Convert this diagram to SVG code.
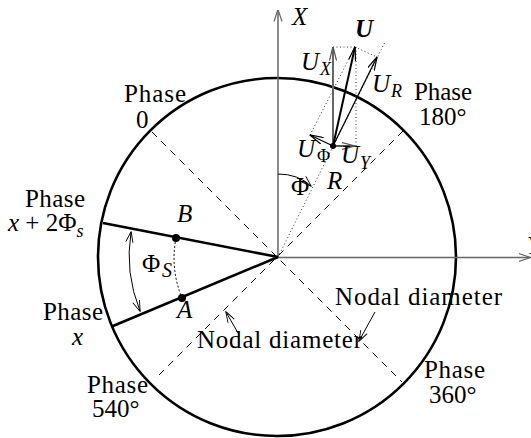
<svg xmlns="http://www.w3.org/2000/svg" width="531" height="438" viewBox="0 0 531 438">
<style>
text{font-family:"Liberation Serif","Times New Roman",serif;font-size:25px;fill:#000}
.it{font-style:italic}
.sub{font-size:18px}
.axis{stroke:#666;stroke-width:1.5;fill:none}
.thick{stroke:#000;stroke-width:2.6;fill:none}
.dash{stroke:#000;stroke-width:1;fill:none;stroke-dasharray:7 6}
.dot{stroke:#333;stroke-width:1;fill:none;stroke-dasharray:1 2.5}
.thin{stroke:#000;stroke-width:1;fill:none}
</style>
<defs>
<marker id="ag" viewBox="0 0 12 10" refX="11.5" refY="5" markerWidth="12" markerHeight="10" markerUnits="userSpaceOnUse" orient="auto"><path d="M0,1 L12,5 L0,9" fill="none" stroke="#666" stroke-width="1.2"/></marker>
<marker id="ak" viewBox="0 0 12 10" refX="11.5" refY="5" markerWidth="12" markerHeight="9" markerUnits="userSpaceOnUse" orient="auto-start-reverse"><path d="M0,1 L12,5 L0,9" fill="none" stroke="#000" stroke-width="1"/></marker>
<marker id="av" viewBox="0 0 14 8" refX="13.5" refY="4" markerWidth="14" markerHeight="8" markerUnits="userSpaceOnUse" orient="auto"><path d="M0,0.5 L14,4 L0,7.5" fill="none" stroke="#000" stroke-width="1.2"/></marker>
<marker id="avg" viewBox="0 0 14 8" refX="13.5" refY="4" markerWidth="14" markerHeight="8" markerUnits="userSpaceOnUse" orient="auto"><path d="M0,0.5 L14,4 L0,7.5" fill="none" stroke="#555" stroke-width="1.2"/></marker>
</defs>

<g id="disk">
<circle cx="277" cy="257" r="179" class="thick"/>
</g>

<g id="connectors">
<line x1="278" y1="257.5" x2="278" y2="10" class="axis" marker-end="url(#ag)"/>
<line x1="278" y1="257.5" x2="530" y2="257.5" class="axis" marker-end="url(#ag)"/>
<line x1="152" y1="132" x2="402" y2="382" class="dash"/>
<line x1="403" y1="131" x2="155" y2="379" class="dash"/>
<line x1="278" y1="257" x2="103" y2="223" class="thick"/>
<line x1="278" y1="257" x2="113" y2="326" class="thick"/>
<path d="M131 232 A149 149 0 0 0 140 311" class="thin" marker-start="url(#ak)" marker-end="url(#ak)"/>
<path d="M176 238 A104 104 0 0 0 182 298" class="thin" stroke-dasharray="2 2"/>
<line x1="375" y1="312" x2="359" y2="341" class="thin" marker-end="url(#ak)"/>
<line x1="238" y1="333" x2="226" y2="312" class="thin" marker-end="url(#ak)"/>
<line x1="278" y1="257" x2="385" y2="42" class="dot"/>
<line x1="333" y1="47" x2="355" y2="47" class="dot"/>
<line x1="356" y1="47" x2="356" y2="146" class="dot"/>
<line x1="310" y1="135" x2="355" y2="47" class="dot"/>
<line x1="355" y1="47" x2="377" y2="57" class="dot"/>
<path d="M278 174 Q298 174 311 186" class="thin" marker-end="url(#ak)"/>
<line x1="333" y1="146" x2="333" y2="47" stroke="#666" stroke-width="2" marker-end="url(#avg)"/>
<line x1="333" y1="146" x2="355" y2="47" stroke="#000" stroke-width="2" marker-end="url(#av)"/>
<line x1="333" y1="146" x2="377" y2="57" stroke="#000" stroke-width="1.3" marker-end="url(#av)"/>
<line x1="333" y1="146" x2="310" y2="135" stroke="#000" stroke-width="1.3" marker-end="url(#av)"/>
<line x1="333" y1="146" x2="355" y2="146" stroke="#555" stroke-width="2" marker-end="url(#avg)"/>
</g>

<g id="pointP"><circle cx="333" cy="146" r="3" fill="#000"/></g>
<g id="pointB"><circle cx="176" cy="238" r="4" fill="#000"/><text x="177" y="222" class="it">B</text></g>
<g id="pointA"><circle cx="182" cy="298" r="4" fill="#000"/><text x="177" y="318" class="it">A</text></g>

<g id="labels">
<text x="292" y="25" class="it">X</text>
<text x="527" y="254" class="it">Y</text>
<text x="355" y="37" class="it" font-weight="bold">U</text>
<text x="301" y="70" class="it">U<tspan class="sub" x="320" y="75">X</tspan></text>
<text x="372" y="92" class="it">U<tspan class="sub" x="391" y="97">R</tspan></text>
<text x="297" y="157" class="it">U<tspan class="sub" font-style="normal" x="317" y="162">Φ</tspan></text>
<text x="341" y="163" class="it">U<tspan class="sub" x="360" y="169">Y</tspan></text>
<text x="327" y="189" class="it">R</text>
<text x="291" y="195">Φ</text>
<text x="142" y="272">Φ<tspan class="it" font-size="20" x="162" y="277">S</tspan></text>
</g>

<g id="phase0"><text x="124" y="102" textLength="62">Phase</text><text x="136" y="128">0</text></g>
<g id="phase180"><text x="414" y="100" textLength="58">Phase</text><text x="419" y="125">180°</text></g>
<g id="phaseX2"><text x="25" y="207" textLength="60">Phase</text><text x="8" y="231"><tspan class="it">x</tspan> + 2Φ<tspan class="it sub" y="237">s</tspan></text></g>
<g id="phaseX"><text x="43" y="320" textLength="60">Phase</text><text x="72" y="345" class="it">x</text></g>
<g id="phase540"><text x="87" y="393" textLength="61">Phase</text><text x="92" y="417">540°</text></g>
<g id="phase360"><text x="424" y="378" textLength="61">Phase</text><text x="429" y="403">360°</text></g>
<g id="nodal1"><text x="335" y="305" textLength="167">Nodal diameter</text></g>
<g id="nodal2"><text x="197" y="348" textLength="165">Nodal diameter</text></g>
</svg>
